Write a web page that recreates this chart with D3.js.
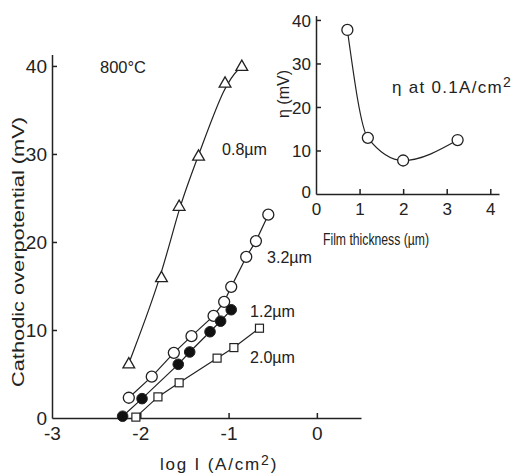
<!DOCTYPE html>
<html><head><meta charset="utf-8">
<script src="https://cdn.jsdelivr.net/npm/d3@7"></script>
<style>
body{margin:0;background:#fff;}
svg text{font-family:"Liberation Sans",Arial,sans-serif;fill:#222;}
</style></head>
<body>
<svg id="c" width="524" height="476"></svg>
<script>
// Main chart: log I vs cathodic overpotential
const xTicksMain = [-3, -2, -1, 0];
const yTicksMain = [0, 10, 20, 30, 40];
const tri08X = [-2.13, -1.76, -1.56, -1.34, -1.04, -0.85];
const tri08Y = [6.2, 16.0, 24.1, 29.8, 38.1, 40.0];
const circ32X = [-2.13, -1.87, -1.62, -1.42, -1.17, -1.05, -0.97, -0.80, -0.69, -0.55];
const circ32Y = [2.3, 4.7, 7.4, 9.3, 11.6, 13.2, 14.9, 18.3, 20.1, 23.1];
const fill12X = [-2.20, -1.98, -1.57, -1.44, -1.21, -1.09, -0.97];
const fill12Y = [0.2, 2.2, 6.1, 7.5, 9.8, 11.0, 12.3];
const sq20X = [-2.05, -1.80, -1.56, -1.13, -0.94, -0.65];
const sq20Y = [0.1, 2.4, 4.0, 6.8, 8.0, 10.2];
// Inset: overpotential at 0.1 A/cm2 vs film thickness
const insetThick = [0.72, 1.19, 2.0, 3.25];
const insetEta = [37.7, 12.9, 7.7, 12.4];
const xTicksInset = [0, 1, 2, 3, 4];
const yTicksInset = [0, 10, 20, 30, 40];

const svg = d3.select("#c");
const ink = "#222";

const x = d3.scaleLinear().domain([-3, 0.5]).range([52, 361]);
const y = d3.scaleLinear().domain([0, 41.3]).range([418, 54.5]);

const gx = svg.append("g").attr("transform", `translate(0,${y(0)})`)
  .call(d3.axisBottom(x).tickValues(xTicksMain).tickSizeInner(-5).tickSizeOuter(0).tickFormat(d3.format("d")));
const gy = svg.append("g").attr("transform", `translate(${x(-3)},0)`)
  .call(d3.axisLeft(y).tickValues(yTicksMain).tickSizeInner(-5).tickSizeOuter(0).tickFormat(d3.format("d")));
[gx, gy].forEach(g => {
  g.selectAll("path,line").attr("stroke", ink).attr("stroke-width", 1.5);
  g.selectAll("text").attr("fill", ink).style("font-size", "19px");
});
gx.selectAll(".tick text").attr("dy", "0").attr("y", 22).text(d => d < 0 ? "-" + Math.abs(d) : d);
gy.selectAll(".tick text").attr("x", -5).attr("dy", "0.36em");
gy.selectAll(".tick").filter(d => d === 0).select("line").remove();
gx.selectAll(".tick").filter(d => d === -3).select("line").remove();

function series(xs, ys, curve) {
  const pts = xs.map((v, i) => [x(v), y(ys[i])]);
  svg.append("path").attr("d", d3.line().curve(curve)(pts))
    .attr("fill", "none").attr("stroke", ink).attr("stroke-width", 1.2);
  return pts;
}
const pT = series(tri08X, tri08Y, d3.curveBasis);
const pC = series(circ32X, circ32Y, d3.curveLinear);
const pF = series(fill12X, fill12Y, d3.curveLinear);
const pS = series(sq20X, sq20Y, d3.curveLinear);

svg.append("g").selectAll("path").data(pT).join("path")
  .attr("d", d3.symbol().type(d3.symbolTriangle).size(60))
  .attr("transform", d => `translate(${d[0]},${d[1] + 1})`)
  .attr("fill", "#fff").attr("stroke", ink).attr("stroke-width", 1.3);
svg.append("g").selectAll("circle").data(pC).join("circle")
  .attr("cx", d => d[0]).attr("cy", d => d[1]).attr("r", 5.5)
  .attr("fill", "#fff").attr("stroke", ink).attr("stroke-width", 1.3);
svg.append("g").selectAll("circle").data(pF).join("circle")
  .attr("cx", d => d[0]).attr("cy", d => d[1]).attr("r", 5.3)
  .attr("fill", "#111").attr("stroke", ink).attr("stroke-width", 1);
svg.append("g").selectAll("rect").data(pS).join("rect")
  .attr("x", d => d[0] - 4).attr("y", d => d[1] - 4).attr("width", 8).attr("height", 8)
  .attr("fill", "#fff").attr("stroke", ink).attr("stroke-width", 1.2);

function label(t, px, py, size, len) {
  const el = svg.append("text").attr("x", px).attr("y", py).style("font-size", size + "px").text(t);
  if (len) el.attr("textLength", len).attr("lengthAdjust", "spacingAndGlyphs");
  return el;
}
label("800°C", 100, 73, 17, 46);
label("0.8µm", 222, 155, 17, 45);
label("3.2µm", 267, 263, 17, 45);
label("1.2µm", 250, 317, 17, 45);
label("2.0µm", 250, 363, 17, 45);
const xl = svg.append("text").attr("x", 160).attr("y", 470).style("font-size", "17px").style("letter-spacing", "1.8px");
xl.append("tspan").text("log I (A/cm");
xl.append("tspan").attr("dy", -5).style("font-size", "14px").text("2");
xl.append("tspan").attr("dy", 5).text(")");
svg.append("text").attr("transform", "translate(24,252) rotate(-90)")
  .attr("text-anchor", "middle").style("font-size", "17px")
  .attr("textLength", 270).attr("lengthAdjust", "spacingAndGlyphs")
  .text("Cathodic overpotential (mV)");

// Inset
const xi = d3.scaleLinear().domain([0, 4.2]).range([316, 499]);
const yi = d3.scaleLinear().domain([0, 41]).range([194, 15.6]);
const gxi = svg.append("g").attr("transform", `translate(0,${yi(0)})`)
  .call(d3.axisBottom(xi).tickValues(xTicksInset).tickSizeInner(-5).tickSizeOuter(0).tickFormat(d3.format("d")));
const gyi = svg.append("g").attr("transform", `translate(${xi(0)},0)`)
  .call(d3.axisLeft(yi).tickValues(yTicksInset).tickSizeInner(-5).tickSizeOuter(0).tickFormat(d3.format("d")));
[gxi, gyi].forEach(g => {
  g.selectAll("path,line").attr("stroke", ink).attr("stroke-width", 1.5);
  g.selectAll("text").attr("fill", ink).style("font-size", "17px");
});
gxi.selectAll(".tick text").attr("dy", "0").attr("y", 21);
gyi.selectAll(".tick text").attr("x", -5).attr("dy", "0.36em");
gyi.selectAll(".tick").filter(d => d === 0).select("text").attr("dy", "0.2em");
gyi.selectAll(".tick").filter(d => d === 0).select("line").remove();
gxi.selectAll(".tick").filter(d => d === 0).select("line").remove();

const pI = insetThick.map((v, i) => [xi(v), yi(insetEta[i])]);
svg.append("path").attr("d", d3.line().curve(d3.curveMonotoneX)(pI))
  .attr("fill", "none").attr("stroke", ink).attr("stroke-width", 1.2);
svg.append("g").selectAll("circle").data(pI).join("circle")
  .attr("cx", d => d[0]).attr("cy", d => d[1]).attr("r", 5.5)
  .attr("fill", "#fff").attr("stroke", ink).attr("stroke-width", 1.3);

const il = svg.append("text").attr("x", 392).attr("y", 93).style("font-size", "17px").style("letter-spacing", "1.3px");
il.append("tspan").text("η at 0.1A/cm");
il.append("tspan").attr("dy", -6).style("font-size", "14px").text("2");
svg.append("text").attr("transform", "translate(289,94) rotate(-90)")
  .attr("text-anchor", "middle").style("font-size", "16px").text("η (mV)");
label("Film thickness (µm)", 323, 245, 16, 106);
</script>
</body></html>
